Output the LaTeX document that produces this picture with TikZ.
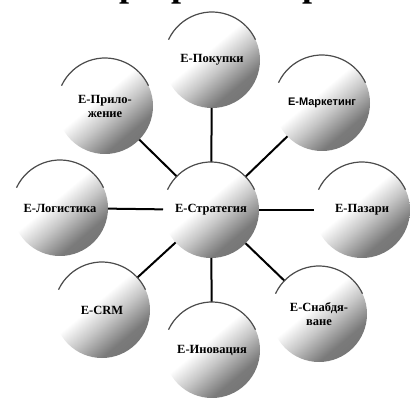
\documentclass[tikz,border=0pt]{standalone}
\usepackage{fontspec}
\setmainfont{Liberation Serif}
\newfontfamily\arialfont{Liberation Sans}
\pgfdeclareverticalshading{bubbleshade}{100bp}{color(0bp)=(black!60); color(31bp)=(black!52); color(44bp)=(black!22); color(55bp)=(white); color(100bp)=(white)}
\tikzset{bubble/.style = {shape = circle, minimum size = 96pt, inner sep = 0pt, outer sep = 0pt, align = center, shading = bubbleshade, shading angle = 40, font = \fontsize{12.5}{14}\selectfont\bfseries}}
\tikzset{link/.style = {line width = 2pt, black}}
\tikzset{rim/.style = {draw = black!70, line width = 1.2pt}}
\tikzset{heading/.style = {anchor = base west, inner sep = 0pt, font = \fontsize{36}{36}\selectfont\bfseries}}

\begin{document}
\begin{tikzpicture}[x = 1pt, y = 1pt]
			\useasboundingbox (0, 0) rectangle (410, -398);
			\clip (0, 0) rectangle (410, -398);

			% cut-off heading at the top edge
			\node[heading] (title1) at (119, 3.5) {р};
			\node[heading] (title2) at (171, 3.5) {р};
			\node[heading] (title3) at (302, 3.5) {р};

			\node[bubble] (strat) at (211, -210) {E-Стратегия};
			\node[bubble] (pokupki) at (212, -60) {E-Покупки};
			\node[bubble, font = \fontsize{11}{13}\selectfont\arialfont\bfseries] (marketing) at (322, -103) {E-Маркетинг};
			\node[bubble] (pazari) at (362, -210) {E-Пазари};
			\node[bubble] (snab) at (319, -314) {E-Снабдя-\\ване};
			\node[bubble] (inov) at (212, -350) {E-Иновация};
			\node[bubble] (crm) at (102, -310) {E-CRM};
			\node[bubble] (logist) at (60, -208) {E-Логистика};
			\node[bubble] (prilo) at (105, -106) {E-Прило-\\жение};

			\draw[link] (strat) -- (pokupki);
			\draw[link] (strat) -- (marketing);
			\draw[link] (strat) -- (pazari);
			\draw[link] (strat) -- (snab);
			\draw[link] (strat) -- (inov);
			\draw[link] (strat) -- (crm);
			\draw[link] (strat) -- (logist);
			\draw[link] (strat) -- (prilo);

			\draw[rim] (strat.155) arc[start angle = 155, end angle = 25, radius = 48pt];
			\draw[rim] (pokupki.155) arc[start angle = 155, end angle = 25, radius = 48pt];
			\draw[rim] (marketing.155) arc[start angle = 155, end angle = 25, radius = 48pt];
			\draw[rim] (pazari.155) arc[start angle = 155, end angle = 25, radius = 48pt];
			\draw[rim] (snab.155) arc[start angle = 155, end angle = 25, radius = 48pt];
			\draw[rim] (inov.155) arc[start angle = 155, end angle = 25, radius = 48pt];
			\draw[rim] (crm.155) arc[start angle = 155, end angle = 25, radius = 48pt];
			\draw[rim] (logist.155) arc[start angle = 155, end angle = 25, radius = 48pt];
			\draw[rim] (prilo.155) arc[start angle = 155, end angle = 25, radius = 48pt];
		\end{tikzpicture}
\end{document}
